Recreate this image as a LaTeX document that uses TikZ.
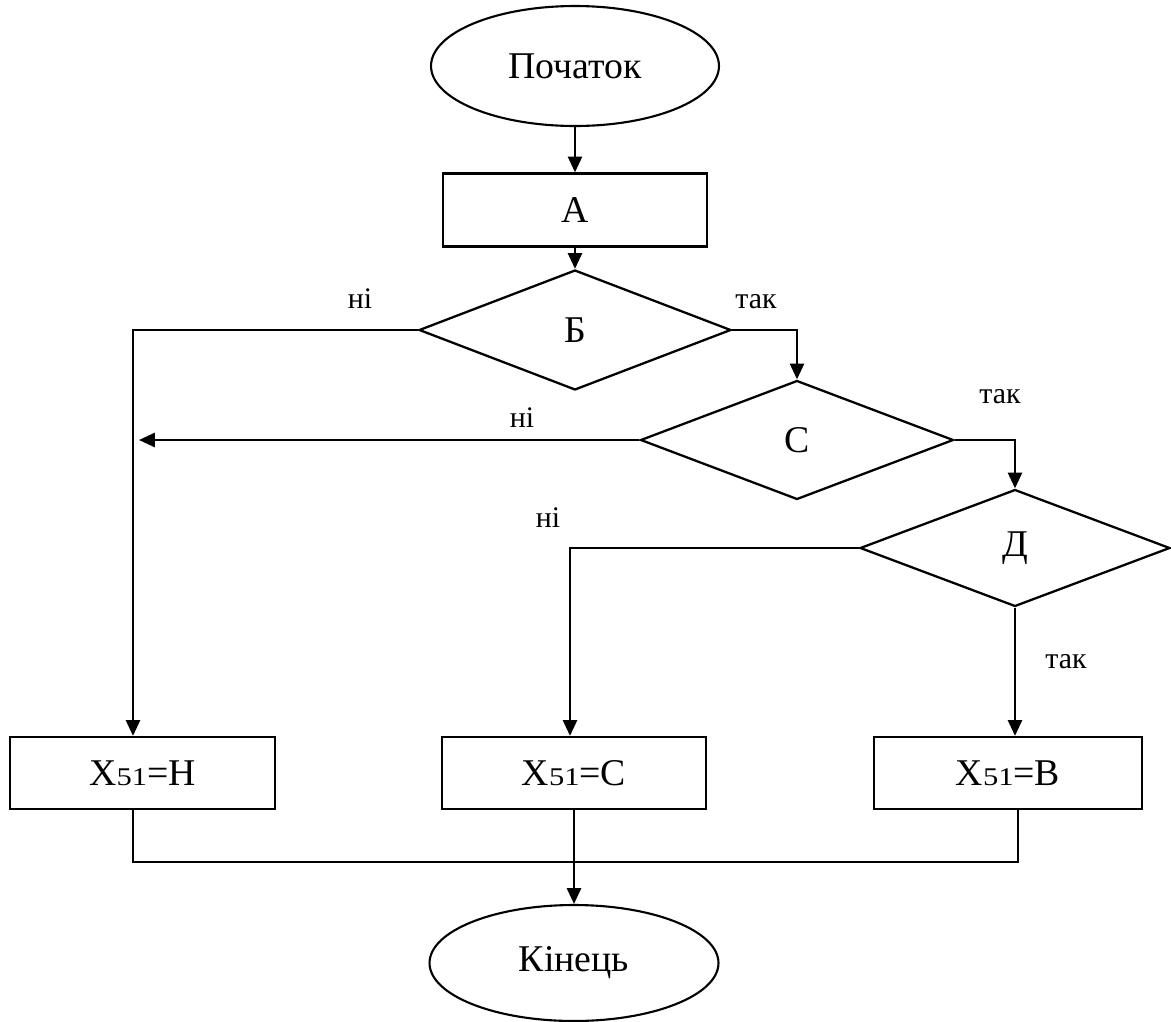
\documentclass[tikz,border=0pt]{standalone}
\usepackage{fontspec}
\usepackage{graphicx}
\setmainfont{Liberation Serif}
\usetikzlibrary{shapes.geometric,arrows.meta}
\newcommand\mainsz{\fontsize{21.5pt}{25pt}\selectfont}
\newcommand\lblsz{\fontsize{17pt}{20pt}\selectfont}
\newcommand\subnum[1]{\scalebox{1.2}[1]{\fontsize{14.5pt}{14pt}\selectfont #1}}
\begin{document}
\begin{tikzpicture}[x=0.02cm,y=-0.02cm,
  ln/.style={line width=1.4pt},
  arr/.style={ln,-{Triangle[length=9pt,width=8pt]}},
  term/.style={ellipse,draw,line width=1.2pt,inner sep=0pt,font=\mainsz},
  proc/.style={rectangle,draw,line width=1.3pt,minimum height=1.44cm,inner sep=0pt,font=\mainsz},
  dec/.style={diamond,draw,line width=1.3pt,inner sep=0pt,aspect=2.6,font=\mainsz},
  lbl/.style={anchor=base,inner sep=0pt,font=\lblsz}]
\useasboundingbox (0,0) rectangle (1171,1022);
\fill[white] (0,0) rectangle (1171,1022);
% nodes
\node[term,minimum width=5.76cm,minimum height=2.4cm] (start) at (575,66) {Початок};
\node[proc,minimum width=5.28cm,minimum height=1.46cm] (A) at (575,210) {А};
\node[dec,minimum width=6.24cm,minimum height=2.4cm] (B) at (575,330) {Б};
\node[dec,minimum width=6.26cm,minimum height=2.38cm] (C) at (797,440) {С};
\node[dec,minimum width=6.2cm,minimum height=2.34cm] (D) at (1015,548) {Д};
\node[proc,minimum width=5.3cm] (XH) at (142.5,773) {Х\subnum{51}=Н};
\node[proc,minimum width=5.28cm] (XC) at (574,773) {Х\subnum{51}=С};
\node[proc,minimum width=5.36cm] (XB) at (1008,773) {Х\subnum{51}=В};
\node[term,minimum width=5.78cm,minimum height=2.32cm] (End) at (574,963) {Кінець};
% labels
\node[lbl] (l1) at (360,308) {ні};
\node[lbl] (l2) at (756,308) {так};
\node[lbl] (l3) at (1000,403) {так};
\node[lbl] (l4) at (522,427) {ні};
\node[lbl] (l5) at (548,527) {ні};
\node[lbl] (l6) at (1066,668) {так};
% coordinates
\coordinate (jB) at (133,330);
\coordinate (jBC) at (797,330);
\coordinate (jCl) at (139,440);
\coordinate (jCD) at (1015,440);
\coordinate (jD) at (570,548);
\coordinate (mL) at (133,862);
\coordinate (mR) at (1018,862);
% connectors
\draw[arr] (start.south) -- (A.north);
\draw[arr] (A.south) -- (B.north);
\draw[arr] (B.west) -- (jB) -- (jB |- XH.north);
\draw[arr] (B.east) -- (jBC) -- (C.north);
\draw[arr] (C.west) -- (jCl);
\draw[arr] (C.east) -- (jCD) -- (D.north);
\draw[arr] (D.west) -- (jD) -- (jD |- XC.north);
\draw[arr] (D.south) -- (D.south |- XB.north);
\draw[ln] (XH.south -| mL) -- (mL) -- (mR) -- (XB.south -| mR);
\draw[arr] (XC.south) -- (End.north);
\end{tikzpicture}
\end{document}
